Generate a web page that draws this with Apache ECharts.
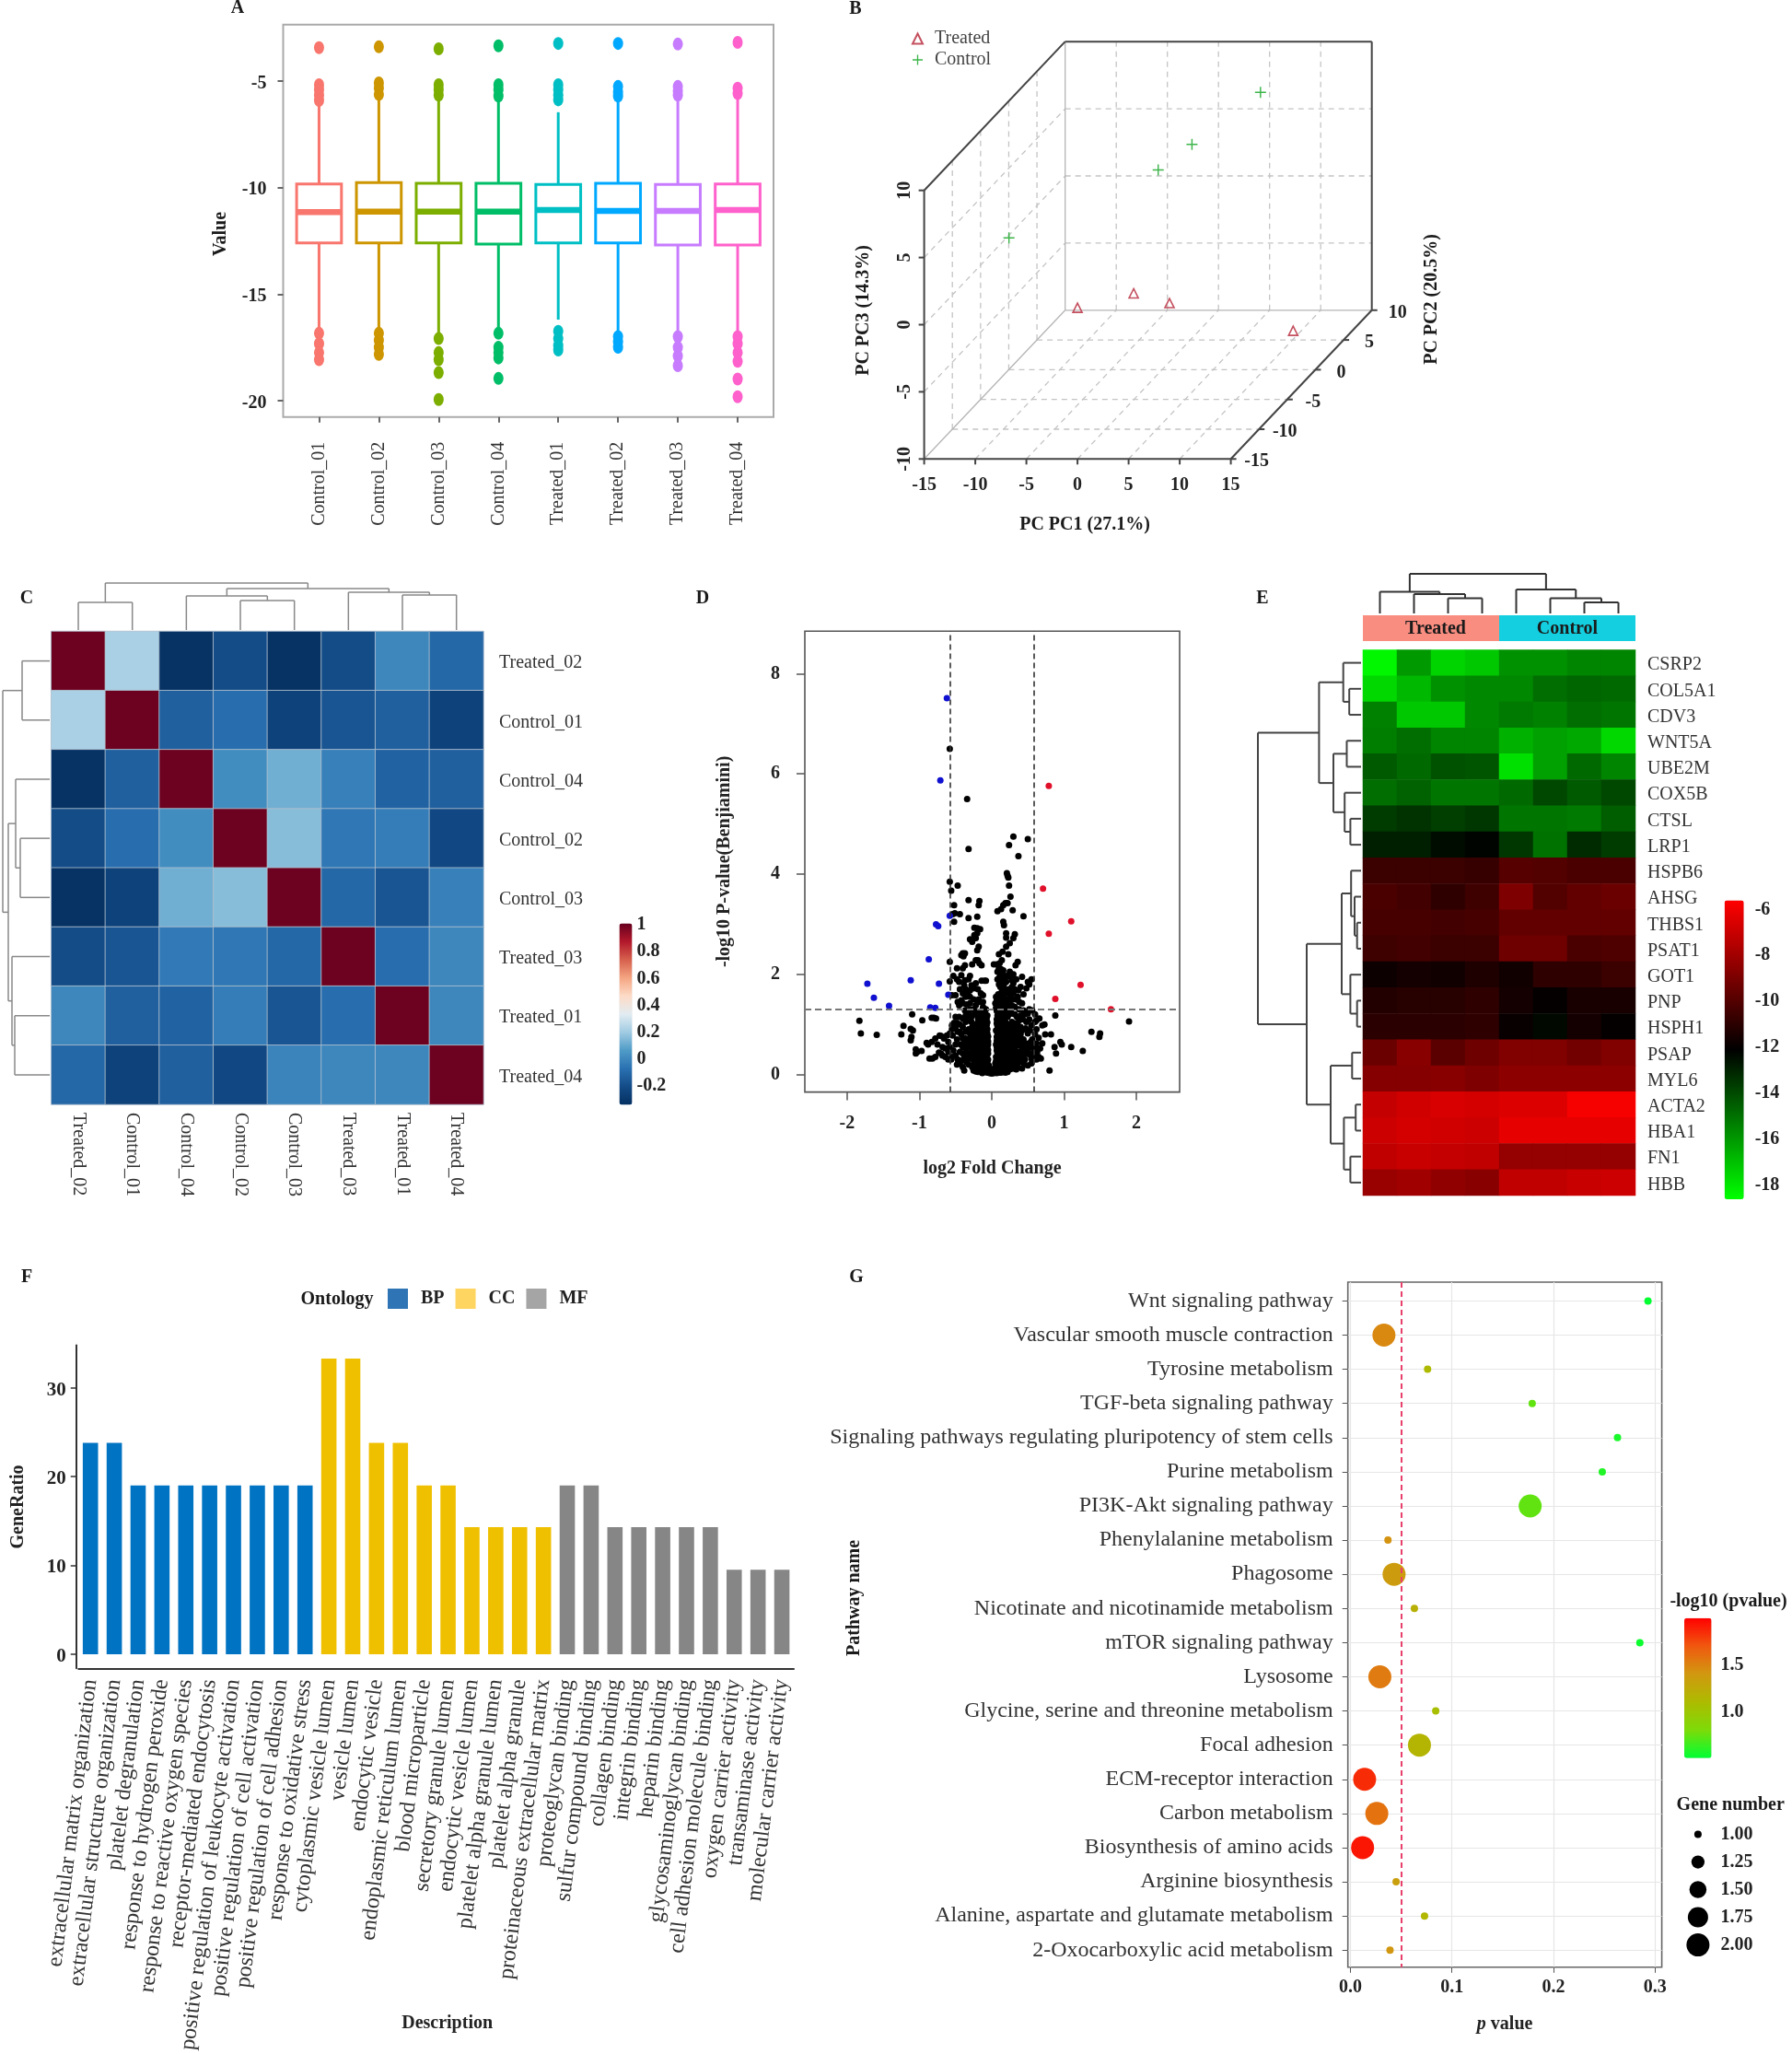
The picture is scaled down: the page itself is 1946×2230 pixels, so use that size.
<!DOCTYPE html>
<html><head><meta charset="utf-8">
<script src="https://cdn.jsdelivr.net/npm/echarts@6/dist/echarts.min.js"></script>
<style>html,body{margin:0;padding:0;background:#fff}#c{width:1946px;height:2230px}</style></head>
<body><div id="c"></div>
<script>
// ---------- A: box plots
const samplesA = ['Control_01','Control_02','Control_03','Control_04','Treated_01','Treated_02','Treated_03','Treated_04'];
const colorsA = ['#F8766D','#CD9600','#7CAE00','#00BE67','#00BFC4','#00A9FF','#C77CFF','#FF61CC'];
// low whisker, q1, median, q3, high whisker
const boxesA = [[-16.7,-12.6,-11.15,-9.83,-5.9],[-16.9,-12.6,-11.13,-9.77,-5.8],[-16.9,-12.6,-11.13,-9.8,-5.8],[-16.8,-12.65,-11.13,-9.8,-5.8],
  [-16.2,-12.6,-11.05,-9.85,-6.46],[-16.9,-12.6,-11.1,-9.8,-5.9],[-16.9,-12.7,-11.1,-9.85,-5.9],[-16.9,-12.7,-11.05,-9.83,-5.8]];
const outliersA = [
  [-3.43,-5.17,-5.41,-5.66,-5.91,-16.84,-17.33,-17.75,-18.08],
  [-3.39,-5.08,-5.33,-5.63,-16.84,-17.17,-17.5,-17.83],
  [-3.48,-5.17,-5.41,-5.66,-17.09,-17.75,-18.08,-18.69,-19.95],
  [-3.34,-5.17,-5.41,-5.7,-16.84,-17.5,-17.75,-18,-18.96],
  [-3.23,-5.17,-5.41,-5.66,-5.88,-16.75,-17.09,-17.42,-17.63],
  [-3.23,-5.25,-5.5,-5.7,-17,-17.25,-17.5],
  [-3.26,-5.25,-5.46,-5.66,-17,-17.5,-17.91,-18.36],
  [-3.18,-5.33,-5.58,-17,-17.33,-17.75,-18.16,-18.99,-19.82]];
// ---------- B: 3D PCA
const pcTicks1 = [-15,-10,-5,0,5,10,15], pcTicks2 = [-15,-10,-5,0,5,10], pcTicks3 = [-10,-5,0,5,10];
const treatedPC = [[-12.69,8,-8.93],[-6.09,6,-6.97],[-1.48,4,-6.81],[14.48,-3,-5.77]];
const controlPC = [[6.87,5,8.44],[1.82,2,5.89],[-0.38,0,4.87],[-8.91,-11,4.69]];
// ---------- C: correlation heatmap
const namesC = ['Treated_02','Control_01','Control_04','Control_02','Control_03','Treated_03','Treated_01','Treated_04'];
const matrixC = [
 [1,.22,-.33,-.2,-.33,-.2,0,-.1],
 [.22,1,-.13,-.08,-.25,-.17,-.13,-.25],
 [-.33,-.13,1,.02,.12,-.02,-.12,-.13],
 [-.2,-.08,.02,1,.16,-.05,-.03,-.22],
 [-.33,-.25,.12,.16,1,-.1,-.17,-.02],
 [-.2,-.17,-.04,-.05,-.1,1,-.08,0],
 [0,-.13,-.12,-.03,-.17,-.08,1,0],
 [-.1,-.25,-.13,-.22,-.01,0,0,1]];
const treeC = [51,[30,0,1],[45,[37,2,[32,3,4]],[41,5,[38,6,7]]]];
const ticksC = [1,.8,.6,.4,.2,0,-.2];
// ---------- D: volcano
const volcanoBlue = [[-.62,7.51],[-.71,5.87],[-.58,3.17],[-.77,3],[-.74,2.96],[-.87,2.3],[-1.12,1.88],[-1.72,1.81],[-.73,1.81],[-1.63,1.53],[-.6,1.59],[-1.42,1.37],[-.85,1.34],[-.78,1.33]];
const volcanoRed = [[.79,5.76],[.71,3.71],[1.1,3.06],[.79,2.81],[1.23,1.79],[.88,1.51],[1.65,1.3]];
const volcanoBlack = [[-.58,6.5],[-.34,5.5],[.3,4.75],[.5,4.7],[.24,4.58],[-.32,4.5],[.37,4.36],[.21,4.02],[.22,3.97],[.23,3.93],[-.58,3.85],[-.47,3.77],[.24,3.77],[-.56,3.67],[.26,3.55],
[-.32,3.48],[-.17,3.46],[-.18,3.38],[.19,3.42],[.16,3.38],[.22,3.42],[-.52,3.38],[.13,3.3],[.08,3.26],[.29,3.28],[-.54,3.2],[-.44,3.2],[-.51,3.22],[.44,3.16],[-.32,3.12],[-.2,3.15],[-.52,3.05],[.16,3.05],[.17,2.98],[-.24,2.93],[-.2,2.92],[-.16,2.9],[-.2,2.82],[-.24,2.78],[.2,2.82],[.32,2.8],[.2,2.73],[.3,2.72],[-.22,2.72],[-.3,2.7],[-.27,2.65],[.25,2.62],[.2,2.55],[-.18,2.55],[-.2,2.48],[.15,2.45],[.1,2.4],[.23,2.4],[-.4,2.42],[-.37,2.42],[-.42,2.38],[-.39,2.36],
[-.58,2.25],[-.37,2.18],[-.48,2.12],[-.4,2.12],[-.27,2.2],[-.22,2.28],[-.19,2.28],[-.17,2.22],[-.14,2.18],[-.42,1.98],[-.53,1.97],[-.58,1.86],[-.3,1.97],[-.32,1.9],[-.37,1.88],[-.45,1.85],[-.14,1.87],[-.1,1.87],[-.08,1.87],[-.36,1.7],[-.44,1.7],[-.25,1.72],[-.3,1.68],[-.19,1.7],[-.15,1.62],[-.12,1.58],[-.5,1.58],[-.55,1.58],[-.4,1.62],[-.36,1.55],[-.3,1.55],[-.25,1.5],[-.2,1.47],[-.45,1.38],[-.4,1.42],[-.35,1.4],[-.3,1.42],[-.22,1.38],[-.17,1.45],[-.12,1.35],[-.08,1.3],[-.3,1.3],[-.25,1.3],[-.37,1.28],
[.03,2.2],[.07,2.2],[.11,2.22],[.14,2.28],[.1,2.12],[.13,2.1],[.16,2.08],[.08,2.05],[.12,2.02],[.36,2.25],[.33,2.18],[.16,2],[.11,1.95],[.08,1.9],[.14,1.9],[.18,1.92],[.2,1.85],[.22,1.97],[.28,1.88],[.3,1.82],[.34,1.9],[.42,1.95],[.5,1.85],[.55,1.9],[.52,1.8],[.48,1.72],[.28,1.75],[.32,1.7],[.37,1.68],[.3,1.62],[.36,1.55],[.33,1.5],[.12,1.75],[.14,1.65],[.18,1.7],[.12,1.6],[.16,1.55],[.1,1.5],[.07,1.48],[.13,1.48],[.18,1.46],[.22,1.5],[.08,1.4],[.12,1.4],[.16,1.38],[.2,1.4],[.24,1.42],[.28,1.38],[.32,1.35],[.38,1.3],[.44,1.28],[.5,1.22],[.46,1.2],[.52,1.3],[.06,1.33],[.1,1.32],[.14,1.3],[.18,1.3],[.22,1.32],[.26,1.3],[.56,1.28],[.6,1.2],[.62,1.08],
[-1.83,1.07],[-1.81,.82],[-1.59,.79],[-1.25,.8],[-1.22,.97],[-1.1,1.2],[-1.12,.91],[-1.09,.88],[-1.11,.75],[-1.12,.68],[-1.05,.5],[-1.05,.42],[-1.03,.45],[-.97,.47],[-.96,1.08],[-.9,.63],[-.88,.6],[-.83,1.13],[-.8,1.13],[-.77,1.12],[-.83,.65],[-.86,.32],[-.82,.32],[-.78,.72],[-.72,.78],[-.7,.77],[-.75,.6],[-.73,.44],[-.7,.42],[-.68,.38],[-.64,.35],[-.6,.3],[-.56,.3],[-.66,.72],[-.6,.65],[-.58,.55],[-.54,.78],[-.55,.98],[-.52,1.03],[-.48,1.03],[-.48,.7],[-.43,.6],[-.4,.55],[-.44,.45],[-.4,.42],[-.37,.38],[-.42,.28],[-.4,.15],[-.38,.08],[-.44,1],[-.4,.95],[-.36,1.05],[-.32,1.1],[-.28,1.15],[-.24,1.2],[-.44,.85],[-.36,.85],[-.32,.9],[-.27,.95],[-.22,1],[-.36,.72],[-.3,.72],[-.26,.7],[-.32,.55],[-.27,.5],[-.23,.55],[-.33,.4],[-.3,.32],[-.26,.3],[-.32,.2],[-.27,.15],[-.25,.08],
[-.2,.1],[-.18,.2],[-.2,.3],[-.17,.4],[-.2,.5],[-.17,.55],[-.2,.62],[-.16,.7],[-.2,.78],[-.15,.85],[-.18,.92],[-.14,1],[-.1,1.05],[-.12,1.12],[-.16,1.18],[-.09,1.2],[-.08,1.1],[-.07,.98],[-.12,.92],[-.1,.85],[-.12,.78],[-.09,.75],[-.13,.68],[-.1,.62],[-.07,.65],[-.06,.7],[-.06,.55],[-.1,.5],[-.13,.45],[-.08,.42],[-.05,.42],[-.12,.35],[-.09,.32],[-.05,.3],[-.14,.25],[-.1,.22],[-.07,.2],[-.04,.18],[-.13,.15],[-.1,.12],[-.07,.1],[-.04,.08],[-.02,.05],[-.15,.08],[-.12,.06],[-.09,.05],[-.06,.04],[-.03,.03],[0,.02],[0,.06],[0,.1],
[.03,.03],[.05,.05],[.08,.06],[.11,.07],[.14,.09],[.17,.1],[.2,.08],[.03,.1],[.05,.15],[.07,.13],[.1,.15],[.13,.17],[.16,.2],[.2,.2],[.24,.15],[.05,.22],[.08,.25],[.1,.28],[.14,.3],[.18,.32],[.22,.3],[.06,.35],[.09,.38],[.12,.42],[.16,.45],[.2,.42],[.25,.4],[.07,.48],[.09,.5],[.13,.55],[.17,.58],[.22,.55],[.27,.5],[.06,.6],[.09,.65],[.12,.68],[.16,.72],[.2,.7],[.25,.68],[.29,.62],[.07,.75],[.1,.8],[.13,.82],[.17,.85],[.22,.85],[.27,.82],[.32,.78],[.06,.88],[.09,.92],[.12,.95],[.16,.98],[.2,1],[.25,1],[.07,1.02],[.1,1.08],[.13,1.12],[.17,1.15],[.22,1.15],[.08,1.18],[.12,1.22],[.16,1.25],
[.28,.95],[.32,.92],[.36,.98],[.4,.95],[.33,1.02],[.38,1.08],[.43,1.1],[.48,1.05],[.3,.35],[.35,.3],[.4,.25],[.36,.15],[.3,.22],[.28,.12],[.42,.38],[.37,.45],[.32,.5],[.45,.55],[.4,.62],[.35,.68],[.44,.7],[.4,.8],[.5,.82],[.53,.88],[.56,.7],[.6,.8],[.62,.62],[.55,.55],[.5,.5],[.48,.42],[.52,.4],[.46,.3],[.55,.32],[.6,.42],[.65,.35],[.68,.32],[.62,.3],[.55,.22],[.5,.18],[.67,.52],[.7,.62],[.65,.73],[.62,.9],[.7,.98],[.73,1],[.66,1.12],[.8,.08],[.89,.42],[.87,.55],[.82,.8],[.97,.6],[.95,.65],[1.1,.55],[1.26,.47],[1.38,.85],[1.49,.75],[1.5,.82],[1.9,1.06],[.88,1.18],[.74,.8],
[-.25,.12],[-.22,.06],[-.19,.05],[-.16,.05],[-.13,.03],[-.23,.17],[-.21,.14],[-.17,.13],[-.15,.17],[-.11,.18],[-.08,.15],[-.05,.13],[-.03,.12],[-.24,.24],[-.22,.22],[-.19,.24],[-.16,.26],[-.12,.28],[-.08,.27],[-.06,.25],[-.25,.35],[-.22,.36],[-.18,.33],[-.15,.35],[-.11,.4],[-.07,.36],[-.24,.44],[-.21,.42],[-.19,.44],[-.15,.46],[-.11,.48],[-.08,.5],[-.05,.49],[-.25,.6],[-.22,.55],[-.18,.58],[-.14,.55],[-.12,.58],[-.08,.58],[-.05,.6],[-.24,.66],[-.21,.68],[-.18,.7],[-.14,.63],[-.11,.66],[-.08,.68],[-.05,.66],[-.23,.76],[-.19,.74],[-.17,.8],[-.13,.75],[-.1,.72],[-.07,.78],[-.05,.76],[-.23,.84],[-.2,.86],[-.17,.88],[-.13,.83],[-.08,.84],[-.06,.82],[-.21,.95],[-.17,.98],[-.14,.93],[-.1,.96],[-.08,.92],[-.06,.9],[-.19,1.04],[-.16,1.05],[-.13,1.05],[-.1,1],[-.06,1.04],[-.07,1.12],[-.1,1.14],[-.13,1.2],[-.19,1.12],[-.06,1.18],[-.1,1.25],[-.14,1.27],[-.19,1.25],[-.21,1.2],
[-.55,.9],[-.5,.92],[-.47,.85],[-.5,.6],[-.53,.48],[-.5,.38],[-.55,.35],[-.47,.3],[-.44,.22],[-.48,.2],[-.35,.25],[-.38,.32],[-.35,.5],[-.38,.62],[-.34,.62],[-.4,.72],[-.42,.8],[-.5,1.15],[-.45,1.15],[-.4,1.12],[-.36,1.18],[-.32,1.22],[-.28,1.05],[-.3,.82],[-.27,.82],[-.25,.88],[-.28,.62],[-.29,.42],[-.6,.45],[-.64,.52],[-.62,.78],[-.58,.82],[-.68,.55],[-.78,.35],
[.22,.05],[.19,.04],[.16,.05],[.13,.04],[.1,.04],[.07,.03],[.25,.1],[.22,.12],[.19,.14],[.16,.13],[.13,.12],[.1,.1],[.07,.09],[.27,.18],[.24,.21],[.22,.19],[.18,.18],[.14,.2],[.11,.2],[.08,.18],[.28,.28],[.25,.3],[.2,.26],[.16,.27],[.12,.25],[.09,.3],[.06,.27],[.28,.38],[.23,.36],[.19,.38],[.15,.36],[.11,.35],[.08,.42],[.29,.48],[.25,.5],[.22,.47],[.19,.5],[.15,.5],[.11,.46],[.09,.43],[.07,.55],[.3,.58],[.25,.56],[.2,.6],[.15,.6],[.11,.58],[.09,.58],[.3,.7],[.27,.66],[.23,.63],[.18,.65],[.14,.65],[.1,.7],[.07,.67],[.29,.76],[.25,.76],[.21,.78],[.18,.78],[.15,.78],[.11,.75],[.08,.82],[.3,.86],[.25,.9],[.2,.9],[.18,.92],[.15,.88],[.11,.88],[.08,.88],[.28,1.05],[.23,.97],[.19,1.05],[.14,1.03],[.11,1],[.08,.97],[.07,1.1],[.1,1.14],[.14,1.18],[.19,1.2],[.24,1.2],[.28,1.22],[.1,1.25],[.07,1.27],[.13,1.26],[.2,1.26],[.25,1.27],
[.33,.2],[.36,.25],[.4,.33],[.44,.45],[.34,.4],[.33,.6],[.37,.58],[.42,.5],[.5,.6],[.54,.65],[.47,.62],[.38,.72],[.34,.78],[.36,.85],[.42,.88],[.47,.92],[.55,.98],[.6,1.05],[.52,1.1],[.35,1.15],[.4,1.18],[.32,1.2],[.58,.45],[.6,.55],[.63,.45],[.58,.3],[.45,.2],[.42,.12],[.34,.1],[.3,.12],
[.06,1.55],[.09,1.6],[.05,1.42],[.15,1.72],[.17,1.8],[.13,1.85],[.1,1.8],[.24,1.7],[.26,1.6],[.22,1.62],[.28,1.5],[.38,1.45],[.42,1.42],[.44,1.6],[.4,1.75],[.26,1.95],[.3,2],[.25,2.05],[-.18,1.5],[-.12,1.45],[-.42,1.48],[-.47,1.45],[-.33,1.6],[-.28,1.78],[-.22,1.82],[-.38,1.78],[-.48,1.9]];
// ---------- E: expression heatmap
const genesE = ['CSRP2','COL5A1','CDV3','WNT5A','UBE2M','COX5B','CTSL','LRP1','HSPB6','AHSG','THBS1','PSAT1','GOT1','PNP','HSPH1','PSAP','MYL6','ACTA2','HBA1','FN1','HBB'];
const matrixE = [
 [-18.4,-16,-17.5,-17.2,-15.8,-15.8,-15.5,-15.5],
 [-17.6,-16.8,-15.8,-15.6,-15.6,-14.9,-14.7,-14.8],
 [-15.4,-17.2,-17.2,-15.6,-15.2,-15.4,-14.9,-15.1],
 [-15.3,-14.9,-15.5,-15.5,-16.6,-16.2,-16.4,-17.6],
 [-14.4,-14.8,-14.2,-14.3,-17.8,-16.2,-14.8,-15.5],
 [-14.9,-14.6,-15.1,-15.1,-14.8,-13.9,-14.4,-13.9],
 [-13.6,-13.4,-13.7,-13.5,-15.1,-15.1,-15.2,-14.5],
 [-12.9,-12.9,-12.4,-12.2,-13.5,-15,-13.2,-13.6],
 [-10.6,-10.6,-10.6,-10.7,-9.9,-10,-10.2,-10.2],
 [-10.2,-10.4,-10.9,-10.5,-8.9,-10,-9.6,-9.4],
 [-10.3,-10.3,-10.4,-10.3,-9.6,-9.6,-9.6,-9.6],
 [-10.5,-10.4,-10.6,-10.6,-9.3,-9.3,-10.2,-10.1],
 [-11.8,-11.6,-11.7,-11.3,-11.7,-10.9,-10.9,-10.6],
 [-11.2,-11.1,-11.1,-10.9,-11.6,-12,-11.5,-11.5],
 [-11,-11,-11,-10.9,-11.9,-12.3,-11.6,-12],
 [-9.4,-8.6,-9.8,-9.3,-8.8,-8.8,-9.2,-8.8],
 [-8.7,-8.7,-8.6,-8.9,-8.5,-8.5,-8.5,-8.5],
 [-7.1,-6.8,-6.6,-6.7,-6.5,-6.5,-5.8,-5.8],
 [-6.9,-6.7,-6.8,-6.9,-6.2,-6.2,-6.2,-6.2],
 [-7.2,-7,-7.1,-7.2,-8.3,-8.3,-8.3,-8.3],
 [-8.2,-8,-8.4,-8.6,-7.2,-7.2,-7,-6.9]];
const ticksE = [-6,-8,-10,-12,-14,-16,-18];
const treeEcols = [43,[23.6,0,[21,1,[16.5,2,3]]],[26,4,[16.5,5,[12,6,7]]]];
const treeErows = [112,[45.6,[19.3,0,[12.8,1,2]],[30,[15.5,3,4],[17.8,5,[11.6,6,7]]]],
  [59,[21,[10.8,8,[7,9,[4.3,10,11]]],[11.6,12,[4.3,13,14]]],[33,[9.7,15,16],[18.6,[5.8,17,18],[11.6,19,20]]]]];
const groupsE = [['Treated',0,4,'#F98D80'],['Control',4,8,'#14CFE0']];
// ---------- F: GO bars
const termsF = ['extracellular matrix organization','extracellular structure organization','platelet degranulation','response to hydrogen peroxide','response to reactive oxygen species','receptor-mediated endocytosis','positive regulation of leukocyte activation','positive regulation of cell activation','positive regulation of cell adhesion','response to oxidative stress','cytoplasmic vesicle lumen','vesicle lumen','endocytic vesicle','endoplasmic reticulum lumen','blood microparticle','secretory granule lumen','endocytic vesicle lumen','platelet alpha granule lumen','platelet alpha granule','proteinaceous extracellular matrix','proteoglycan binding','sulfur compound binding','collagen binding','integrin binding','heparin binding','glycosaminoglycan binding','cell adhesion molecule binding','oxygen carrier activity','transaminase activity','molecular carrier activity'];
const ratioBP = [23.8,23.8,19,19,19,19,19,19,19,19];
const ratioCC = [33.3,33.3,23.8,23.8,19,19,14.3,14.3,14.3,14.3];
const ratioMF = [19,19,14.3,14.3,14.3,14.3,14.3,9.5,9.5,9.5];
// ---------- G: KEGG bubbles (top row first)
const pathwaysG = ['Wnt signaling pathway','Vascular smooth muscle contraction','Tyrosine metabolism','TGF-beta signaling pathway','Signaling pathways regulating pluripotency of stem cells','Purine metabolism','PI3K-Akt signaling pathway','Phenylalanine metabolism','Phagosome','Nicotinate and nicotinamide metabolism','mTOR signaling pathway','Lysosome','Glycine, serine and threonine metabolism','Focal adhesion','ECM-receptor interaction','Carbon metabolism','Biosynthesis of amino acids','Arginine biosynthesis','Alanine, aspartate and glutamate metabolism','2-Oxocarboxylic acid metabolism'];
const pValuesG = [.293,.033,.076,.179,.263,.248,.177,.037,.043,.063,.285,.029,.084,.068,.014,.026,.012,.045,.073,.039];
const geneNumG = [1,2,1,1,1,1,2,1,2,1,1,2,1,2,2,2,2,1,1,1];
const logPG = [.53,1.48,1.12,.75,.58,.6,.75,1.43,1.37,1.2,.545,1.54,1.08,1.17,1.85,1.58,1.92,1.35,1.14,1.41];
const sizeLegendG = [1,1.25,1.5,1.75,2];

// ---------- helpers
const FF = '"Liberation Serif"';
const grids=[], xs=[], ys=[], series=[], vms=[];
function addGrid(x0,y0,x1,y1,xa,ya,extra){
  const i=grids.length;
  grids.push(Object.assign({left:x0,top:y0,width:x1-x0,height:y1-y0},extra||{}));
  xs.push(Object.assign({gridIndex:i,nameMoveOverlap:false},xa)); ys.push(Object.assign({gridIndex:i,nameMoveOverlap:false},ya));
  return i;
}
const H=(min,max,inverse)=>({type:'value',show:false,min,max,inverse:!!inverse,axisLine:{onZero:false}});
const tickB={fontFamily:FF,fontWeight:'bold',fontSize:20,color:'#222'};
const nameB={fontFamily:FF,fontWeight:'bold',fontSize:20,color:'#222'};
const nudge={verticalAlign:'top',lineHeight:5};
function segRender(style){
  return (params,api)=>{
    const a=api.coord([api.value(0),api.value(1)]), b=api.coord([api.value(2),api.value(3)]);
    return {type:'line',silent:true,shape:{x1:a[0],y1:a[1],x2:b[0],y2:b[1]},style};
  };
}
function segSeries(gi,rows,style){
  series.push({type:'custom',xAxisIndex:gi,yAxisIndex:gi,silent:true,renderItem:segRender(style),encode:{x:[0,2],y:[1,3]},data:rows,z:3});
}
function treeSegments(node,segs){
  if(typeof node==='number') return {p:node+.5,h:0};
  const l=treeSegments(node[1],segs), r=treeSegments(node[2],segs), h=node[0];
  segs.push([l.p,l.h,l.p,h],[l.p,h,r.p,h],[r.p,r.h,r.p,h]);
  return {p:(l.p+r.p)/2,h};
}
function colorbar(x0,y0,w,h,min,max,ticks,colors,idx,margin,fmt,dim){
  const vm={type:'continuous',min,max,inRange:{color:colors},seriesIndex:idx,left:x0,top:y0,itemWidth:w,itemHeight:h,padding:0,calculable:false,hoverLink:false};
  if(dim!==undefined) vm.dimension=dim;
  vms.push(vm);
  addGrid(x0,y0,x0+w,y0+h,H(0,1),{type:'value',min,max,position:'right',axisLine:{show:false},axisTick:{show:false},splitLine:{show:false},
    axisLabel:Object.assign({customValues:ticks,margin,formatter:fmt||(v=>String(v))},tickB)});
}

// ---------- Panel A
{
  const yv=[-20,-15,-10,-5], xv=[1,2,3,4,5,6,7,8];
  const gi=addGrid(307.5,26.8,840,452.7,
   {type:'value',min:.4,max:8.6,axisLine:{show:false,onZero:false},splitLine:{show:false},axisTick:{customValues:xv,length:6,lineStyle:{color:'#666',width:2}},
    axisLabel:{customValues:xv,rotate:90,margin:27,fontFamily:FF,fontSize:20,color:'#333',formatter:v=>samplesA[v-1]}},
   {type:'value',min:-20.77,max:-2.35,axisLine:{show:false,onZero:false},splitLine:{show:false},
    axisTick:{customValues:yv,length:6,lineStyle:{color:'#666',width:2}},axisLabel:Object.assign({customValues:yv,margin:18},tickB,nudge)},
   {show:true,borderColor:'#aaa',borderWidth:2,backgroundColor:'transparent'});
  series.push({type:'custom',xAxisIndex:gi,yAxisIndex:gi,encode:{x:0,y:[1,2,3,4,5]},
    data:boxesA.map((b,i)=>[i+1].concat(b)),
    renderItem:(p,api)=>{
      const x=api.value(0),c=colorsA[p.dataIndex],hw=api.size([1,0])[0]*.375;
      const P=v=>api.coord([x,v]);
      const lo=P(api.value(1)),q1=P(api.value(2)),med=P(api.value(3)),q3=P(api.value(4)),hi=P(api.value(5));
      const ln=(x1,y1,x2,y2,w)=>({type:'line',shape:{x1,y1,x2,y2},style:{stroke:c,lineWidth:w}});
      return {type:'group',children:[
        ln(lo[0],lo[1],lo[0],q1[1],3),ln(hi[0],q3[1],hi[0],hi[1],3),
        {type:'rect',shape:{x:q3[0]-hw,y:q3[1],width:hw*2,height:q1[1]-q3[1]},style:{stroke:c,lineWidth:3,fill:'#fff'}},
        ln(med[0]-hw,med[1],med[0]+hw,med[1],6.5)]};
    }});
  const pts=[];outliersA.forEach((o,i)=>o.forEach(v=>pts.push([i+1,v])));
  series.push({type:'scatter',xAxisIndex:gi,yAxisIndex:gi,data:pts,symbolSize:[11,14],itemStyle:{opacity:1,color:p=>colorsA[p.value[0]-1]},z:4});
}
// ---------- Panel B
{
  const kx=.5517,kz=.4431;
  const proj=(a,b,c)=>[a+(b+15)*kx,c+(b+15)*kz];
  const gi=addGrid(1003.6,45,1490,498.3,H(-15,28.82),H(-10,21.09));
  const seg=(p,q)=>proj(p[0],p[1],p[2]).concat(proj(q[0],q[1],q[2]));
  const dash=[],light=[],dark=[];
  pcTicks1.slice(1,-1).forEach(a=>{dash.push(seg([a,-15,-10],[a,10,-10]),seg([a,10,-10],[a,10,10]));});
  pcTicks2.slice(1,-1).forEach(b=>{dash.push(seg([-15,b,-10],[15,b,-10]),seg([-15,b,-10],[-15,b,10]));});
  pcTicks3.slice(1,-1).forEach(c=>{dash.push(seg([-15,-15,c],[-15,10,c]),seg([-15,10,c],[15,10,c]));});
  light.push(seg([-15,10,-10],[-15,10,10]),seg([-15,-15,-10],[-15,10,-10]),seg([-15,10,-10],[15,10,-10]));
  dark.push(seg([-15,-15,-10],[15,-15,-10]),seg([-15,-15,-10],[-15,-15,10]),seg([-15,-15,10],[-15,10,10]),seg([-15,10,10],[15,10,10]),seg([15,10,10],[15,10,-10]),seg([15,-15,-10],[15,10,-10]));
  segSeries(gi,dash,{stroke:'#c4c4c4',lineWidth:1.3,lineDash:[6,5]});
  segSeries(gi,light,{stroke:'#b5b5b5',lineWidth:1.3});
  segSeries(gi,dark,{stroke:'#444',lineWidth:2});
  const tk=[];
  pcTicks1.forEach(a=>tk.push(proj(a,-15,-10).concat([a,0])));
  pcTicks3.forEach(c=>tk.push(proj(-15,-15,c).concat([c,1])));
  pcTicks2.forEach(b=>tk.push(proj(15,b,-10).concat([b,2])));
  series.push({type:'custom',xAxisIndex:gi,yAxisIndex:gi,silent:true,encode:{x:0,y:1},data:tk,z:4,
    renderItem:(p,api)=>{
      const c=api.coord([api.value(0),api.value(1)]),k=api.value(3),t=String(api.value(2));
      const d=[[0,6],[-6,0],[6,0]][k],o=[[0,29],[-21,0],[28,3]][k];
      return {type:'group',children:[
       {type:'line',shape:{x1:c[0],y1:c[1],x2:c[0]+d[0],y2:c[1]+d[1]},style:{stroke:'#444',lineWidth:2}},
       {type:'text',x:c[0]+o[0],y:c[1]+o[1],rotation:k===1?Math.PI/2:0,style:{text:t,font:'bold 20px '+FF,fill:'#222',align:'center',verticalAlign:'middle'}}]};
    }});
  series.push({name:'Treated',type:'scatter',xAxisIndex:gi,yAxisIndex:gi,symbol:'triangle',symbolSize:10,itemStyle:{color:'rgba(255,255,255,0)',borderColor:'#C4505F',borderWidth:1.6,opacity:1},data:treatedPC.map(p=>proj(p[0],p[1],p[2])),z:5});
  series.push({name:'Control',type:'scatter',xAxisIndex:gi,yAxisIndex:gi,symbol:'path://M4.4 0H5.6V4.4H10V5.6H5.6V10H4.4V5.6H0V4.4H4.4Z',symbolSize:12,itemStyle:{color:'#3DB54A',opacity:1},data:controlPC.map(p=>proj(p[0],p[1],p[2])),z:5});
}
// ---------- Panel C
{
  const gi=addGrid(55.7,685.5,525,1199,
    {type:'category',data:namesC,position:'bottom',axisLine:{show:false},axisTick:{show:false},splitLine:{show:false},axisLabel:{rotate:-90,interval:0,margin:9,fontFamily:FF,fontSize:20,color:'#333'}},
    {type:'category',data:namesC,inverse:true,position:'right',axisLine:{show:false},axisTick:{show:false},splitLine:{show:false},axisLabel:Object.assign({interval:0,margin:17,fontFamily:FF,fontSize:20,color:'#333'},nudge)});
  const d=[];matrixC.forEach((r,y)=>r.forEach((v,x)=>d.push([x,y,v])));
  series.push({type:'heatmap',xAxisIndex:gi,yAxisIndex:gi,data:d,itemStyle:{borderColor:'rgba(175,190,205,.85)',borderWidth:1}});
  const idx=series.length-1;
  colorbar(672.5,1002.6,14,197,-.339,1.01,ticksC,['#053061','#134B87','#2A71B2','#4F9BC7','#A0CBE2','#E2ECF2','#FDDBC7','#F4A582','#D6604D','#B2182B','#67001F'],idx,5);
  const top=[];treeSegments(treeC,top);
  const gt=addGrid(55.7,632,525,684,H(0,8),H(0,52));
  segSeries(gt,top,{stroke:'#888',lineWidth:1.5});
  const left=[];treeSegments(treeC,left);
  const gl=addGrid(2,685.5,54,1199,H(0,52,true),H(0,8,true));
  segSeries(gl,left.map(s=>[s[1],s[0],s[3],s[2]]),{stroke:'#888',lineWidth:1.5});
}
// ---------- Panel D
{
  const xv=[-2,-1,0,1,2],yv=[0,2,4,6,8];
  const mk=(vals)=>({silent:true,symbol:'none',label:{show:false},animation:false,data:vals});
  const gi=addGrid(874,685.2,1281,1185.6,
    {type:'value',min:-2.585,max:2.6,name:'log2 Fold Change',nameLocation:'middle',nameGap:73,nameTextStyle:nameB,axisLine:{show:false,onZero:false},splitLine:{show:false},
     axisTick:{customValues:xv,length:9,lineStyle:{color:'#555',width:1.5}},axisLabel:Object.assign({customValues:xv,margin:24},tickB)},
    {type:'value',min:-.35,max:8.85,name:'-log10 P-value(Benjiamini)',nameLocation:'middle',nameGap:77,nameTextStyle:nameB,axisLine:{show:false,onZero:false},splitLine:{show:false},
     axisTick:{customValues:yv,length:9,lineStyle:{color:'#555',width:1.5}},axisLabel:Object.assign({customValues:yv,margin:27},tickB)},
    {show:true,borderColor:'#555',borderWidth:1.6,backgroundColor:'transparent'});
  series.push({type:'scatter',xAxisIndex:gi,yAxisIndex:gi,symbolSize:7,itemStyle:{color:'#000',opacity:1},data:volcanoBlack,
    markLine:Object.assign(mk([{xAxis:-.585},{xAxis:.59}]),{lineStyle:{color:'#333',type:[6,4],width:1.6}})});
  series.push({type:'scatter',xAxisIndex:gi,yAxisIndex:gi,symbolSize:7,itemStyle:{color:'#1010D0',opacity:1},data:volcanoBlue,
    markLine:Object.assign(mk([{yAxis:1.3}]),{lineStyle:{color:'#777',type:[7,4],width:1.8}})});
  series.push({type:'scatter',xAxisIndex:gi,yAxisIndex:gi,symbolSize:7,itemStyle:{color:'#E0102A',opacity:1},data:volcanoRed});
}
// ---------- Panel E
{
  const cols=['T1','T2','T3','T4','C1','C2','C3','C4'];
  const gi=addGrid(1480,705.5,1776,1298,
    {type:'category',data:cols,show:false},
    {type:'category',data:genesE,inverse:true,position:'right',axisLine:{show:false},axisTick:{show:false},splitLine:{show:false},axisLabel:Object.assign({interval:0,margin:13,fontFamily:FF,fontSize:20,color:'#333'},nudge)});
  const d=[];matrixE.forEach((r,y)=>r.forEach((v,x)=>d.push([x,y,v])));
  series.push({type:'heatmap',xAxisIndex:gi,yAxisIndex:gi,data:d});
  colorbar(1872.7,977.4,21,324.6,-18.6,-5.6,ticksE,['#00FF00','#000000','#FF0000'],series.length-1,12);
  const top=[];treeSegments(treeEcols,top);
  const gt=addGrid(1480,621,1776,666,H(0,8),H(0,45));
  segSeries(gt,top,{stroke:'#333',lineWidth:2});
  const left=[];treeSegments(treeErows,left);
  const gl=addGrid(1364,705.5,1478,1298,H(0,114,true),H(0,21,true));
  segSeries(gl,left.map(s=>[s[1],s[0],s[3],s[2]]),{stroke:'#444',lineWidth:2});
  const ga=addGrid(1480,668,1776,696,H(0,8),H(0,1));
  series.push({type:'custom',xAxisIndex:ga,yAxisIndex:ga,silent:true,encode:{x:[1,2]},data:groupsE,
    renderItem:(p,api)=>{
      const g=groupsE[p.dataIndex],a=api.coord([g[1],1]),b=api.coord([g[2],0]);
      return {type:'group',children:[
        {type:'rect',shape:{x:a[0],y:a[1],width:b[0]-a[0],height:b[1]-a[1]},style:{fill:g[3]}},
        {type:'text',x:(a[0]+b[0])/2+(p.dataIndex===0?5:0),y:(a[1]+b[1])/2+1,style:{text:g[0],font:'bold 20px '+FF,fill:'#1a1a1a',align:'center',verticalAlign:'middle'}}]};
    }});
}
// ---------- Panel F
{
  const yv=[0,10,20,30];
  const gi=addGrid(85.25,1460.5,862,1811.6,
    {type:'category',data:termsF,name:'Description',nameLocation:'middle',nameGap:375,nameTextStyle:Object.assign({padding:[0,0,0,24]},nameB),
     axisLine:{onZero:false,lineStyle:{color:'#333',width:2}},axisTick:{alignWithLabel:true,length:6,lineStyle:{color:'#333',width:1.5}},
     axisLabel:{rotate:83,interval:0,margin:12,fontFamily:FF,fontSize:24,color:'#333'}},
    {type:'value',min:-1.6,max:34.8,offset:2.5,name:'GeneRatio',nameLocation:'middle',nameGap:53,nameTextStyle:nameB,splitLine:{show:false},
     axisLine:{show:true,onZero:false,lineStyle:{color:'#333',width:2}},axisTick:{show:true,customValues:yv,length:6,lineStyle:{color:'#333',width:1.5}},axisLabel:Object.assign({customValues:yv,margin:11},tickB,{fontSize:21},nudge)});
  const pad=(n,a,m)=>Array(n).fill(null).concat(a,Array(m).fill(null));
  [['BP',pad(0,ratioBP,20),'#0073C2'],['CC',pad(10,ratioCC,10),'#EFC000'],['MF',pad(20,ratioMF,0),'#868686']].forEach(s=>{
    series.push({name:s[0],type:'bar',stack:'go',xAxisIndex:gi,yAxisIndex:gi,barWidth:16.6,data:s[1],itemStyle:{color:s[2]}});
  });
}
// ---------- Panel G
{
  const xv=[0,.1,.2,.3],yv=pathwaysG.map((_,i)=>i);
  const gi=addGrid(1463.7,1392,1804.6,2135.8,
    {type:'value',min:-.0025,max:.3066,name:'{i|p} value',nameLocation:'middle',nameGap:52,nameTextStyle:Object.assign({rich:{i:Object.assign({},nameB,{fontStyle:'italic'})}},nameB),
     axisLine:{show:false,onZero:false},axisTick:{customValues:xv,length:6,lineStyle:{color:'#555'}},splitLine:{show:true,lineStyle:{color:'#E6E6E6',width:1.2}},
     axisLabel:Object.assign({customValues:xv,margin:12,formatter:v=>v.toFixed(1)},tickB)},
    {type:'value',min:-.55,max:19.5,inverse:true,axisLine:{show:false,onZero:false},
     axisTick:{customValues:yv,length:6,lineStyle:{color:'#555'}},splitLine:{show:true,lineStyle:{color:'#E6E6E6',width:1.2}},
     axisLabel:{customValues:yv,margin:16,fontFamily:FF,fontSize:24,color:'#333',formatter:v=>pathwaysG[v]}},
    {show:true,borderColor:'#666',borderWidth:1.6,backgroundColor:'transparent'});
  const dia=s=>Math.sqrt(64+561*(s-1));
  series.push({type:'scatter',xAxisIndex:gi,yAxisIndex:gi,data:pValuesG.map((p,i)=>[p,i,geneNumG[i],logPG[i]]),symbolSize:v=>dia(v[2]),itemStyle:{opacity:1},
    encode:{x:0,y:1},
    markLine:{silent:true,symbol:'none',label:{show:false},lineStyle:{color:'#E8406A',type:[6,4],width:2},data:[{xAxis:.05}]}});
  colorbar(1829,1756.7,29.6,152,.52,1.995,[1,1.5],['#00FF33','#7DDB08','#ADBB00','#D19810','#F0580F','#FF0000'],series.length-1,10,v=>v.toFixed(1),3);
  const gs=addGrid(1830,1991.5,1868.6,2111.6,H(0,1),
    {type:'value',min:1,max:2,inverse:true,position:'right',axisLine:{show:false},axisTick:{show:false},splitLine:{show:false},
     axisLabel:Object.assign({customValues:sizeLegendG,margin:0,formatter:v=>v.toFixed(2)},tickB)});
  series.push({type:'scatter',xAxisIndex:gs,yAxisIndex:gs,silent:true,data:sizeLegendG.map(s=>[.36,s]),symbolSize:v=>dia(v[1]),itemStyle:{color:'#000',opacity:1},clip:false});
}
const txt=(t,x,y,o)=>Object.assign({type:'text',x,y,rotation:(o&&o.rot)||0,silent:true,style:{text:t,font:'bold '+((o&&o.size)||20)+'px '+FF,fill:'#1a1a1a',align:(o&&o.align)||'center',verticalAlign:'middle'}});
const graphic=[txt('A',258,9),txt('B',929,9.5),txt('C',29,650),txt('D',763,650),txt('E',1371,650),txt('F',29,1387),txt('G',930,1387),
  txt('Value',240,254,{rot:Math.PI/2}),txt('Pathway name',928,1735,{rot:Math.PI/2}),
  txt('PC PC1 (27.1%)',1178,569.5),txt('PC PC3 (14.3%)',938,337,{rot:Math.PI/2}),txt('PC PC2 (20.5%)',1555,325,{rot:Math.PI/2}),
  txt('Ontology',366,1410.5),txt('-log10 (pvalue)',1877,1738.6),txt('Gene number',1820.6,1960,{align:'left'})];
const chart=echarts.init(document.getElementById('c'),null,{renderer:'canvas'});
chart.setOption({
  animation:false,backgroundColor:'#fff',textStyle:{fontFamily:FF},
  tooltip:{show:false},
  grid:grids,xAxis:xs,yAxis:ys,series,visualMap:vms,graphic,
  legend:[
   {data:['Treated','Control'],selectedMode:false,orient:'vertical',left:990,top:32,itemWidth:11,itemHeight:11,itemGap:3,padding:0,textStyle:{fontFamily:FF,fontSize:20,color:'#444',padding:[0,0,0,8]}},
   {data:[{name:'BP',icon:'rect',itemStyle:{color:'#2F75B5'}},{name:'CC',icon:'rect',itemStyle:{color:'#FFD561'}},{name:'MF',icon:'rect',itemStyle:{color:'#A5A5A5'}}],selectedMode:false,orient:'horizontal',left:421,top:1399,itemWidth:22,itemHeight:22,itemGap:12,padding:0,textStyle:{fontFamily:FF,fontSize:20,fontWeight:'bold',color:'#222',padding:[0,0,0,9]}}
  ]
});
</script></body></html>
